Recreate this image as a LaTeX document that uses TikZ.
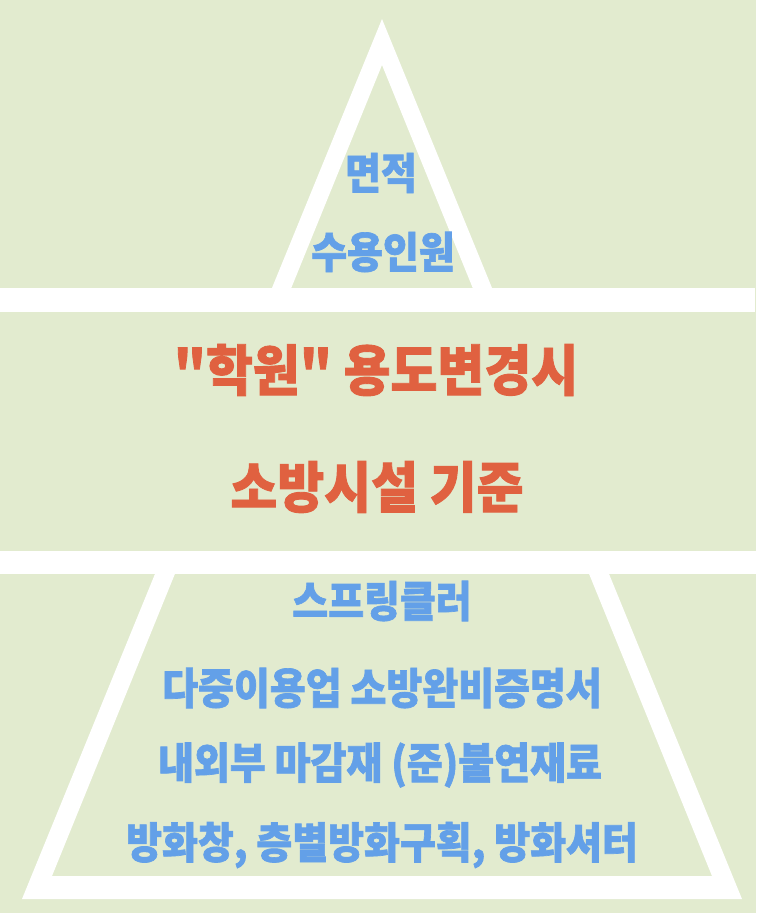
\documentclass[tikz,border=0pt]{standalone}
\usepackage{fontspec}
\newfontfamily\kofont{Noto Sans CJK KR}[BoldFeatures={FakeBold=1.6}]
\definecolor{bggreen}{RGB}{226,235,207}
\definecolor{itemblue}{RGB}{99,160,232}
\definecolor{titlered}{RGB}{224,97,64}
\tikzset{
  item/.style={text=itemblue, font=\kofont\bfseries\fontsize{39}{43}\selectfont, inner sep=0pt, yscale=1.1, transform shape},
  title/.style={text=titlered, font=\kofont\bfseries\fontsize{51}{56}\selectfont, inner sep=0pt, yscale=1.08, transform shape}
}

\begin{document}
\begin{tikzpicture}[x=1pt,y=-1pt]
		\useasboundingbox (0,0) rectangle (756,913);
		\fill[bggreen] (0,0) rectangle (756,913);

		% pyramid outline
		\fill[white,even odd rule] (382,19) -- (22,899) -- (742,899) -- cycle
			(382,65) -- (52,876) -- (712,876) -- cycle;
		\fill[bggreen] (0,312) rectangle (756,551);
		\fill[white] (0,288) rectangle (755,312);
		\fill[white] (0,551) rectangle (756,574);

		\node[item]  (area)     at (381,173) {면적};
		\node[item]  (capacity) at (383,252) {수용인원};
		\node[title] (change)   at (376,370) {"학원" 용도변경시};
		\node[title] (standard) at (377,487) {소방시설 기준};
		\node[item]  (sprinkler) at (382,601) {스프링클러};
		\node[item]  (permit)   at (382,688) {다중이용업 소방완비증명서};
		\node[item]  (finish)   at (380,765) {내외부 마감재 (준)불연재료};
		\node[item]  (firewall) at (382,845) {방화창, 층별방화구획, 방화셔터};
	\end{tikzpicture}
\end{document}
